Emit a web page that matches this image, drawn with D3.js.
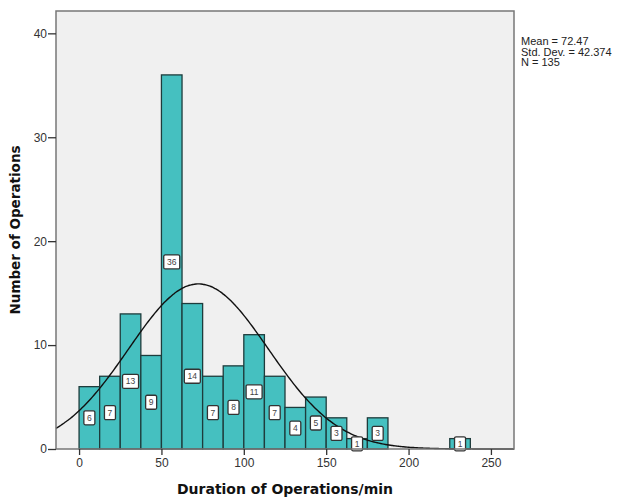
<!DOCTYPE html>
<html>
<head>
<meta charset="utf-8">
<script src="https://cdn.jsdelivr.net/npm/d3@7/dist/d3.min.js"></script>
<style>
html,body{margin:0;padding:0;background:#fff;}
svg{display:block;}
</style>
</head>
<body>
<svg id="chart" width="622" height="497"></svg>
<script>
// ---- data ----
const binStarts = [0,12.5,25,37.5,50,62.5,75,87.5,100,112.5,125,137.5,150,162.5,175,187.5,200,212.5,225];
const binCounts = [6,7,13,9,36,14,7,8,11,7,4,5,3,1,3,0,0,0,1];
const binWidth = 12.5;
const xTicks = [0,50,100,150,200,250];
const yTicks = [0,10,20,30,40];
const statLines = ["Mean = 72.47","Std. Dev. = 42.374","N = 135"];
const mean = 72.47, sd = 42.374, n = 135;
const xTitle = "Duration of Operations/min";
const yTitle = "Number of Operations";

// ---- layout ----
const svg = d3.select("#chart");
const L = 56, R = 514, T = 11, B = 449;
const x = d3.scaleLinear().domain([-14, 264]).range([L, R]);
const y = d3.scaleLinear().domain([0, 42.15]).range([B, T]);

// plot background
svg.append("rect").attr("x", L).attr("y", T).attr("width", R - L).attr("height", B - T)
  .attr("fill", "#f0f0f0");

// bars
const bins = binStarts.map((s, i) => ({x0: s, x1: s + binWidth, c: binCounts[i]})).filter(d => d.c > 0);
svg.append("g").selectAll("rect").data(bins).join("rect")
  .attr("x", d => x(d.x0)).attr("y", d => y(d.c))
  .attr("width", d => x(d.x1) - x(d.x0)).attr("height", d => y(0) - y(d.c))
  .attr("fill", "#45c0c0").attr("stroke", "#1e3c3c").attr("stroke-width", 1.3);

// normal curve
const scale = n * binWidth / (sd * Math.sqrt(2 * Math.PI));
const xs = d3.range(-14, 264.01, 1);
const line = d3.line().x(d => x(d)).y(d => y(scale * Math.exp(-0.5 * Math.pow((d - mean) / sd, 2)))).curve(d3.curveMonotoneX);
svg.append("path").datum(xs).attr("d", line).attr("fill", "none")
  .attr("stroke", "#111").attr("stroke-width", 1.4);

// count labels
const lab = svg.append("g").selectAll("g").data(bins).join("g")
  .attr("transform", d => `translate(${x(d.x0 + binWidth / 2)},${y(d.c / 2)})`);
lab.append("rect")
  .attr("x", d => d.c >= 10 ? -8 : -5.5).attr("y", -7)
  .attr("width", d => d.c >= 10 ? 16 : 11).attr("height", 14)
  .attr("rx", 1.5)
  .attr("fill", "#fff").attr("stroke", "#333").attr("stroke-width", 1.3);
lab.append("text").text(d => d.c)
  .attr("text-anchor", "middle").attr("dy", "0.35em")
  .attr("font-family", "Liberation Sans, Arial, sans-serif").attr("font-size", 8.5)
  .attr("fill", "#444");

// frame
svg.append("rect").attr("x", L).attr("y", T).attr("width", R - L).attr("height", B - T)
  .attr("fill", "none").attr("stroke", "#777").attr("stroke-width", 1.5);

// axes
const xAxis = d3.axisBottom(x).tickValues(xTicks).tickSize(6).tickPadding(3);
const gx = svg.append("g").attr("transform", `translate(0,${B})`).call(xAxis);
gx.select(".domain").remove();
gx.selectAll("line").attr("stroke", "#333").attr("stroke-width", 1.3);
gx.selectAll("text").attr("font-family", "Liberation Sans, Arial, sans-serif").attr("font-size", 12).attr("fill", "#333");

const yAxis = d3.axisLeft(y).tickValues(yTicks).tickSize(8).tickPadding(1);
const gy = svg.append("g").attr("transform", `translate(${L},0)`).call(yAxis);
gy.select(".domain").remove();
gy.selectAll("line").attr("stroke", "#333").attr("stroke-width", 1.3);
gy.selectAll("text").attr("font-family", "Liberation Sans, Arial, sans-serif").attr("font-size", 12).attr("fill", "#333");

// titles
svg.append("text").text(xTitle)
  .attr("x", 285).attr("y", 494)
  .attr("text-anchor", "middle")
  .attr("font-family", "DejaVu Sans, Verdana, sans-serif").attr("font-weight", "bold").attr("font-size", 14)
  .attr("fill", "#111");
svg.append("text").text(yTitle)
  .attr("transform", "translate(20,230) rotate(-90)")
  .attr("text-anchor", "middle")
  .attr("font-family", "DejaVu Sans, Verdana, sans-serif").attr("font-weight", "bold").attr("font-size", 13.5)
  .attr("fill", "#111");

// stats
svg.append("g").selectAll("text").data(statLines).join("text")
  .text(d => d)
  .attr("x", 521).attr("y", (d, i) => 45 + i * 10.5)
  .attr("font-family", "Liberation Sans, Arial, sans-serif").attr("font-size", 11)
  .attr("fill", "#222");
</script>
</body>
</html>
